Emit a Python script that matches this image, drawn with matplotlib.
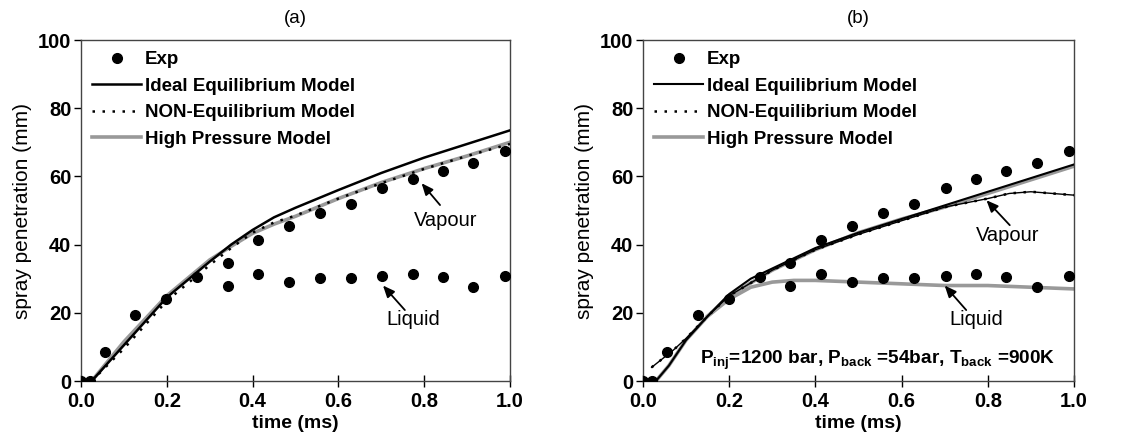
import numpy as np
import matplotlib
matplotlib.use('Agg')
import matplotlib.pyplot as plt

plt.rcParams['font.family'] = ['Liberation Sans', 'DejaVu Sans']
plt.rcParams['mathtext.fontset'] = 'custom'
plt.rcParams['mathtext.rm'] = 'Liberation Sans:bold'
plt.rcParams['mathtext.bf'] = 'Liberation Sans:bold'

# experimental points (same in both panels)
exp_vap_t = [0.0, 0.02, 0.055, 0.127, 0.199, 0.271, 0.342, 0.413, 0.486, 0.557, 0.629, 0.702, 0.773, 0.843, 0.915, 0.988]
exp_vap_y = [0.0, 0.0, 8.5, 19.4, 24.0, 30.5, 34.7, 41.4, 45.6, 49.2, 52.0, 56.5, 59.1, 61.7, 64.0, 67.4]
exp_liq_t = [0.342, 0.413, 0.486, 0.557, 0.629, 0.702, 0.773, 0.843, 0.915, 0.988]
exp_liq_y = [27.9, 31.4, 29.0, 30.3, 30.2, 30.7, 31.3, 30.5, 27.7, 30.9]

# panel (a) model curves
a_t = [0.025, 0.1, 0.2, 0.3, 0.35, 0.4, 0.45, 0.5, 0.6, 0.7, 0.8, 0.9, 1.0]
a_ideal = [0.0, 10.5, 24.5, 35.0, 40.0, 44.3, 48.0, 50.8, 56.0, 61.0, 65.5, 69.5, 73.5]
a_noneq = [0.0, 9.5, 23.5, 34.0, 39.0, 43.5, 46.5, 48.5, 53.5, 58.0, 62.2, 66.0, 69.5]
a_hp = [0.0, 11.5, 25.0, 35.5, 39.5, 43.3, 46.0, 48.3, 53.5, 58.2, 62.3, 66.0, 70.0]

# panel (b) model curves
b_ideal_t = [0.0, 0.03, 0.06, 0.1, 0.15, 0.2, 0.25, 0.3, 0.35, 0.4, 0.5, 0.6, 0.7, 0.8, 0.9, 1.0]
b_ideal = [0.0, 0.0, 4.5, 12.0, 19.0, 25.5, 30.0, 33.0, 36.0, 39.0, 43.5, 47.5, 51.5, 55.5, 59.5, 63.5]
b_noneq_t = [0.02, 0.07, 0.1, 0.15, 0.2, 0.3, 0.4, 0.5, 0.6, 0.7, 0.8, 0.85, 0.9, 0.95, 1.0]
b_noneq = [4.0, 9.0, 12.5, 19.0, 25.0, 32.5, 38.5, 43.0, 47.0, 51.0, 53.5, 55.0, 55.5, 55.0, 54.5]
b_hpv_t = [0.03, 0.06, 0.1, 0.15, 0.2, 0.3, 0.4, 0.5, 0.6, 0.7, 0.8, 0.9, 1.0]
b_hpv = [0.0, 4.5, 12.0, 19.0, 25.0, 32.5, 38.5, 43.5, 47.5, 51.0, 55.0, 59.0, 63.0]
b_hpl_t = [0.15, 0.2, 0.25, 0.3, 0.35, 0.4, 0.5, 0.6, 0.7, 0.8, 0.9, 1.0]
b_hpl = [19.0, 24.0, 27.5, 29.0, 29.5, 29.5, 29.0, 28.5, 28.0, 28.0, 27.5, 27.0]

gray = '#999999'
fs = 14.5

fig = plt.figure(figsize=(11.36, 4.42), dpi=100)
ax1 = fig.add_axes([0.0713, 0.138, 0.3776, 0.7715])
ax2 = fig.add_axes([0.566, 0.138, 0.3794, 0.7715])

ax1.plot(a_t, a_hp, color=gray, lw=2.6, label='High Pressure Model', zorder=2)
ax1.plot(a_t, a_ideal, color='black', lw=1.8, label='Ideal Equilibrium Model', zorder=3)
ax1.plot(a_t, a_noneq, color='black', lw=1.8, ls=(0, (1, 3)), label='NON-Equilibrium Model', zorder=3)

ax2.plot(b_hpv_t, b_hpv, color=gray, lw=2.6, label='High Pressure Model', zorder=2)
ax2.plot(b_hpl_t, b_hpl, color=gray, lw=2.6, zorder=2)
ax2.plot(b_ideal_t, b_ideal, color='black', lw=1.5, label='Ideal Equilibrium Model', zorder=3)
ax2.plot(b_noneq_t, b_noneq, color='black', lw=1.0, zorder=3)
ax2.plot(b_noneq_t, b_noneq, color='black', lw=1.8, ls=(0, (1, 3)), label='NON-Equilibrium Model', zorder=3)

for ax, title in [(ax1, '(a)'), (ax2, '(b)')]:
    ax.plot(exp_vap_t, exp_vap_y, 'o', color='black', ms=7, label='Exp', zorder=4)
    ax.plot(exp_liq_t, exp_liq_y, 'o', color='black', ms=7, zorder=4)
    ax.set_xlim(0, 1.0)
    ax.set_ylim(0, 100)
    ax.set_xticks([0.0, 0.2, 0.4, 0.6, 0.8, 1.0])
    ax.set_yticks([0, 20, 40, 60, 80, 100])
    ax.xaxis.set_major_formatter(matplotlib.ticker.FormatStrFormatter('%.1f'))
    ax.tick_params(axis='x', direction='inout', length=8, width=1, labelsize=fs, pad=4)
    ax.tick_params(axis='y', direction='out', length=5, width=1, labelsize=fs, pad=2)
    for lab in ax.get_xticklabels() + ax.get_yticklabels():
        lab.set_fontweight('bold')
    for sp in ax.spines.values():
        sp.set_color('#444444')
        sp.set_linewidth(1.0)
    ax.set_xlabel('time (ms)', fontsize=14, fontweight='bold', labelpad=3)
    ax.set_ylabel('spray penetration (mm)', fontsize=15, labelpad=4)
    ax.set_title(title, fontsize=13.5, pad=12)

    handles, labels = ax.get_legend_handles_labels()
    order = ['Exp', 'Ideal Equilibrium Model', 'NON-Equilibrium Model', 'High Pressure Model']
    hmap = dict(zip(labels, handles))
    ax.legend([hmap[k] for k in order], order, loc='upper left', frameon=False,
              prop={'weight': 'bold', 'size': 13.5}, handlelength=2.6, handletextpad=0.2,
              labelspacing=0.5, borderaxespad=0.2, bbox_to_anchor=(0.0, 1.0))


def arrow_label(ax, text, tip, tail, pos):
    ax.annotate('', xy=tip, xytext=tail,
                arrowprops=dict(arrowstyle='-|>,head_length=0.7,head_width=0.3', color='black',
                                lw=1.3, shrinkA=0, shrinkB=0))
    ax.text(pos[0], pos[1], text, fontsize=fs, ha='center', va='center')


arrow_label(ax1, 'Vapour', (0.794, 58.0), (0.837, 51.6), (0.85, 47.0))
arrow_label(ax1, 'Liquid', (0.704, 28.0), (0.755, 20.8), (0.774, 17.9))
arrow_label(ax2, 'Vapour', (0.797, 53.0), (0.851, 45.7), (0.847, 42.8))
arrow_label(ax2, 'Liquid', (0.70, 28.0), (0.75, 20.8), (0.773, 17.9))

ax2.text(0.545, 6.2, r'P$_{\mathbf{inj}}$=1200 bar, P$_{\mathbf{back}}$ =54bar, T$_{\mathbf{back}}$ =900K',
         fontsize=13.7, fontweight='bold', ha='center', va='center')

fig.savefig('out.png', dpi=100)
